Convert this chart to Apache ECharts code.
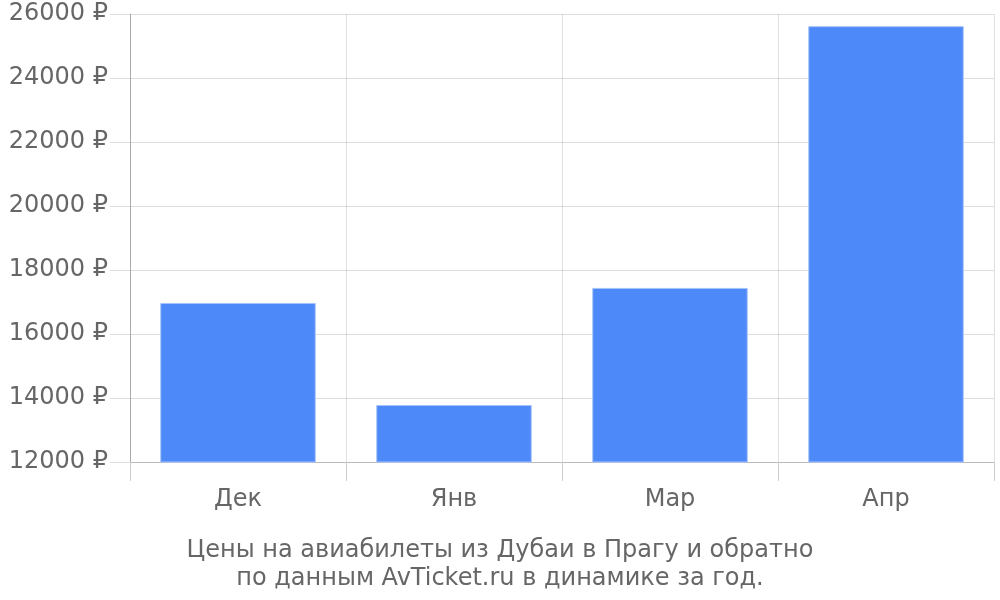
<!DOCTYPE html>
<html><head><meta charset="utf-8">
<script src="https://cdn.jsdelivr.net/npm/echarts@6/dist/echarts.min.js"></script>
<style>html,body{margin:0;padding:0;background:#fff}#c{width:1000px;height:600px}</style>
</head><body><div id="c"></div>
<script>
const categories = ['Дек', 'Янв', 'Мар', 'Апр'];
const prices = [16970, 13780, 17440, 25620];
const titleLines = ['Цены на авиабилеты из Дубаи в Прагу и обратно', 'по данным AvTicket.ru в динамике за год.'];

const chart = echarts.init(document.getElementById('c'), null, {renderer: 'canvas'});
const font = 'DejaVu Sans';
chart.setOption({
  animation: false,
  textStyle: {fontFamily: font},
  title: {
    text: titleLines.join('\n'),
    left: 'center', top: 532,
    textStyle: {fontFamily: font, fontSize: 24, fontWeight: 'normal', color: '#666', lineHeight: 28}
  },
  grid: {left: 130, right: 6, top: 14, bottom: 138, containLabel: false},
  xAxis: {
    type: 'category', data: categories,
    axisLine: {show: true, lineStyle: {color: '#bbb', width: 1}},
    axisTick: {show: true, length: 19, lineStyle: {color: '#ccc'}},
    splitLine: {show: true, lineStyle: {color: 'rgba(0,0,0,0.12)'}},
    axisLabel: {fontFamily: font, fontSize: 24, color: '#666', margin: 26}
  },
  yAxis: {
    type: 'value', min: 12000, max: 26000, interval: 2000,
    axisLine: {show: true, lineStyle: {color: '#aaa'}},
    axisTick: {show: true, length: 20, lineStyle: {color: '#ddd'}},
    splitLine: {show: true, lineStyle: {color: '#ddd'}},
    axisLabel: {fontFamily: font, fontSize: 24, color: '#666', margin: 22, formatter: function (v) { return String(v) + ' ₽'; }}
  },
  series: [{
    type: 'bar', data: prices, barWidth: '72%',
    itemStyle: {color: '#4d89f9', borderColor: '#a6c4fb', borderWidth: 1}
  }]
});
</script></body></html>
